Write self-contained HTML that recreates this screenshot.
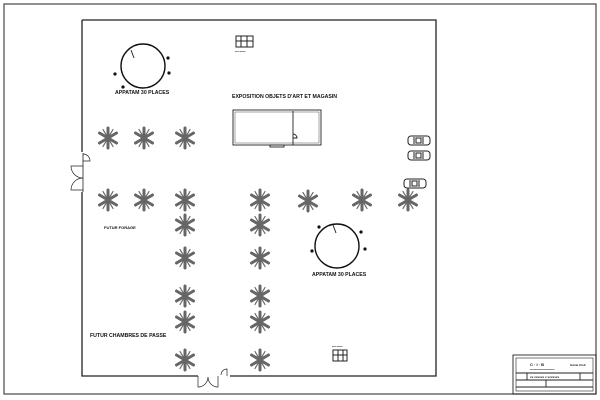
<!DOCTYPE html>
<html><head><meta charset="utf-8"><style>
html,body{margin:0;padding:0;background:#fff;width:600px;height:400px;overflow:hidden}
svg{display:block}
text{font-family:"Liberation Sans",sans-serif;font-size:5.2px;fill:#111;font-weight:bold}
</style></head><body>
<svg width="600" height="400" viewBox="0 0 600 400" xmlns="http://www.w3.org/2000/svg">
<defs>
<g id="t" stroke="#666" stroke-width="3" stroke-linecap="round">
<line x1="0" y1="-10" x2="0" y2="10"/>
<line x1="-8.5" y1="-5" x2="8.5" y2="5"/>
<line x1="-8.5" y1="5" x2="8.5" y2="-5"/>
<line x1="-5" y1="-8.5" x2="5" y2="8.5" stroke-width="1.2"/>
<line x1="-5" y1="8.5" x2="5" y2="-8.5" stroke-width="1.2"/>
</g>
<g id="car" fill="none" stroke="#222" stroke-width="1">
<rect x="0" y="0" width="22" height="9" rx="3"/>
<line x1="6" y1="1" x2="6" y2="8"/><line x1="15" y1="1" x2="15" y2="8"/>
<rect x="8" y="2" width="5" height="5"/>
</g>
</defs>
<rect x="4" y="4" width="592" height="390" fill="none" stroke="#555" stroke-width="1.3"/>
<path d="M82 20 H436 V376 H230 M198 376 H82 V20" fill="none" stroke="#222" stroke-width="1.3"/>
<rect x="80" y="152" width="4" height="40" fill="#fff"/>
<path d="M83 153 V192" stroke="#222" stroke-width="0.8"/>
<path d="M83 154 A7 7 0 0 1 90 161 H83" fill="none" stroke="#222" stroke-width="0.7"/>
<path d="M83 166 H71 A12 12 0 0 0 83 178 A12 12 0 0 0 71 190 H83" fill="none" stroke="#222" stroke-width="0.7"/>
<path d="M198 376 V387 A10 10 0 0 0 208 377 A10 10 0 0 0 218 387 V376" fill="none" stroke="#222" stroke-width="0.7"/>
<path d="M227 376 V369 A6 6 0 0 0 221 375" fill="none" stroke="#222" stroke-width="0.7"/>
<g fill="none" stroke="#111" stroke-width="1.4">
<circle cx="143" cy="66" r="22"/>
<circle cx="337" cy="246" r="22"/>
</g>
<g fill="#111">
<circle cx="168" cy="58" r="1.6"/><circle cx="169" cy="73" r="1.6"/><circle cx="115" cy="74" r="1.6"/><circle cx="123" cy="87" r="1.6"/>
<circle cx="319" cy="227" r="1.6"/><circle cx="361" cy="232" r="1.6"/><circle cx="312" cy="251" r="1.6"/><circle cx="365" cy="249" r="1.6"/>
</g>
<line x1="131" y1="50" x2="134" y2="58" stroke="#222" stroke-width="1"/>
<line x1="333" y1="225" x2="336" y2="233" stroke="#222" stroke-width="1"/>
<text x="115" y="94">APPATAM 30 PLACES</text>
<text x="312" y="276">APPATAM 30 PLACES</text>
<text x="232" y="98">EXPOSITION OBJETS D'ART ET MAGASIN</text>
<text x="104" y="229" style="font-size:4px">FUTUR FORAGE</text>
<text x="90" y="337">FUTUR CHAMBRES DE PASSE</text>
<g fill="none" stroke="#222" stroke-width="0.9">
<rect x="233" y="110" width="88" height="35"/>
<rect x="235" y="112" width="84" height="31" stroke-width="0.4"/>
<line x1="293" y1="111" x2="293" y2="145"/>
<path d="M293 134 A4 4 0 0 1 297 138 H293"/>
<rect x="270" y="145" width="14" height="2"/>
</g>
<g fill="none" stroke="#222" stroke-width="1">
<rect x="236" y="36" width="17" height="11"/><line x1="236" y1="41" x2="253" y2="41"/><line x1="241" y1="36" x2="241" y2="47"/><line x1="247" y1="36" x2="247" y2="47"/>
<rect x="333" y="350" width="14" height="11"/><line x1="333" y1="355" x2="347" y2="355"/><line x1="338" y1="350" x2="338" y2="361"/><line x1="343" y1="350" x2="343" y2="361"/>
</g>
<text x="235" y="52" style="font-size:2px">xxxx xxxxx</text>
<text x="332" y="347" style="font-size:2px">xxxx xxxxx</text>
<use href="#car" x="408" y="136"/>
<use href="#car" x="408" y="151"/>
<use href="#car" x="404" y="179"/>
<use href="#t" x="108" y="138"/><use href="#t" x="144" y="138"/><use href="#t" x="185" y="138"/>
<use href="#t" x="108" y="200"/><use href="#t" x="144" y="200"/><use href="#t" x="185" y="200"/><use href="#t" x="260" y="200"/><use href="#t" x="308" y="201"/><use href="#t" x="362" y="200"/><use href="#t" x="408" y="200"/>
<use href="#t" x="185" y="225"/><use href="#t" x="185" y="258"/><use href="#t" x="185" y="296"/><use href="#t" x="185" y="322"/><use href="#t" x="185" y="360"/>
<use href="#t" x="260" y="225"/><use href="#t" x="260" y="258"/><use href="#t" x="260" y="296"/><use href="#t" x="260" y="322"/><use href="#t" x="260" y="360"/>
<g fill="none" stroke="#222" stroke-width="0.9">
<rect x="513" y="355" width="83" height="39"/>
<rect x="516" y="358" width="77" height="33" stroke-width="0.6"/>
<line x1="516" y1="373" x2="593" y2="373"/>
<line x1="516" y1="380" x2="593" y2="380"/>
<line x1="516" y1="387" x2="593" y2="387"/>
<line x1="527" y1="373" x2="527" y2="380"/><line x1="580" y1="373" x2="580" y2="380"/>
<line x1="546" y1="380" x2="546" y2="387"/>
</g>
<text x="530" y="366" style="font-size:4px">C · I · B</text>
<text x="570" y="366" style="font-size:3px">Génie Civil</text>
<text x="530" y="370" style="font-size:2px">xxxxxxxxxxxxxxxxxxxxxx</text>
<text x="530" y="378" style="font-size:3px">xx xxxxxx x xxxxxxx</text>
</svg>
</body></html>
